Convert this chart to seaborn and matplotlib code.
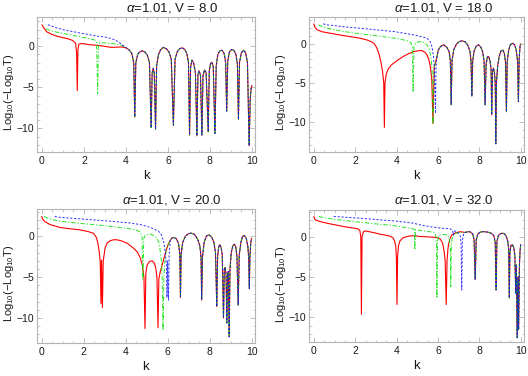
import matplotlib
matplotlib.use("Agg")
import matplotlib.pyplot as plt
import seaborn as sns
from matplotlib.ticker import MultipleLocator

ALPHA = 1.01
V_VALUES = [8.0, 18.0, 20.0, 32.0]

# (k, log10(-log10 T)) points.
# Each colour has its own start; after that all three follow the same tail.

# --- V = 8 ---
red_v8 = [(0.0, 2.6), (0.06, 2.3), (0.22, 1.75), (0.45, 1.45), (0.7, 1.22), (1.0, 1.03),
          (1.2, 0.92), (1.45, 0.7), (1.6, 0.35), (1.65, -0.8), (1.68, -5.4), (1.71, -0.5),
          (1.76, 0.25), (1.9, 0.32), (2.2, 0.2), (2.8, 0.05), (3.3, -0.15), (3.8, -0.1)]
green_v8 = [(0.18, 2.1), (0.4, 1.9), (0.7, 1.7), (1.0, 1.55), (1.4, 1.35), (1.8, 1.14),
            (2.2, 0.95), (2.5, 0.75), (2.6, 0.5), (2.65, -5.8), (2.69, 0.1), (2.76, 0.4),
            (3.0, 0.4), (3.4, 0.3), (3.8, 0.1)]
blue_v8 = [(0.28, 2.6), (0.6, 2.3), (1.0, 2.0), (1.4, 1.8), (1.8, 1.6), (2.2, 1.42),
           (2.6, 1.22), (3.0, 1.1), (3.3, 0.93), (3.5, 0.72), (3.65, 0.5), (3.8, 0.2)]
tail_v8 = [(4.0, -0.2), (4.15, -0.45), (4.28, -0.9), (4.37, -2.0), (4.42, -8.6), (4.47, -2.0),
           (4.56, -1.0), (4.66, -0.7), (4.78, -0.57), (4.9, -0.7), (5.02, -1.1), (5.12, -2.0),
           (5.2, -9.9), (5.25, -3.2), (5.3, -2.7), (5.35, -3.3), (5.41, -10.1), (5.46, -2.4),
           (5.55, -1.0), (5.65, -0.45), (5.78, -0.15), (5.92, -0.3), (6.05, -0.7), (6.16, -1.6),
           (6.26, -9.6), (6.34, -1.6), (6.44, -0.7), (6.56, -0.3), (6.68, -0.2), (6.8, -0.4),
           (6.9, -0.9), (6.98, -2.0), (7.03, -10.8), (7.08, -2.6), (7.14, -1.7), (7.22, -2.0),
           (7.31, -3.2), (7.38, -10.9), (7.43, -3.5), (7.48, -3.0), (7.55, -3.5), (7.62, -10.8),
           (7.67, -3.6), (7.74, -2.9), (7.82, -3.2), (7.92, -10.4), (7.97, -3.0), (8.03, -2.1),
           (8.09, -1.95), (8.16, -2.5), (8.24, -10.6), (8.3, -2.4), (8.38, -1.0), (8.48, -0.55),
           (8.58, -0.5), (8.68, -0.9), (8.75, -2.0), (8.8, -7.9), (8.85, -1.8), (8.93, -0.7),
           (9.03, -0.4), (9.14, -0.5), (9.24, -1.0), (9.31, -2.2), (9.36, -8.9), (9.41, -2.0),
           (9.5, -0.8), (9.6, -0.5), (9.7, -0.8), (9.79, -2.0), (9.87, -12.1), (9.92, -6.5),
           (9.96, -5.2), (10.0, -4.8)]

# --- V = 18 ---
red_v18 = [(0.0, 2.56), (0.06, 2.1), (0.16, 1.8), (0.4, 1.55), (0.96, 1.28), (1.45, 1.05),
           (1.93, 0.86), (2.3, 0.68), (2.57, 0.5), (2.75, 0.3), (2.9, 0.08), (3.03, -0.45),
           (3.14, -1.2), (3.24, -2.3), (3.32, -3.5), (3.38, -5.0), (3.41, -10.7), (3.44, -5.0),
           (3.5, -3.9), (3.6, -3.2), (3.75, -2.7), (3.9, -2.4), (4.1, -2.0), (4.34, -1.6),
           (4.55, -1.3), (4.82, -1.0), (5.05, -0.88), (5.22, -0.86), (5.38, -1.1), (5.47, -1.4),
           (5.56, -2.0), (5.63, -2.9), (5.7, -4.5), (5.76, -10.2), (5.82, -3.0)]
green_v18 = [(0.22, 2.44), (0.5, 2.1), (1.0, 1.8), (1.45, 1.58), (2.25, 1.28), (2.9, 1.07),
             (3.54, 0.86), (4.0, 0.68), (4.5, 0.42), (4.7, 0.15), (4.76, -0.5), (4.8, -6.2),
             (4.84, -0.3), (4.92, 0.08), (5.05, 0.25), (5.22, 0.3), (5.35, 0.15), (5.47, -0.13),
             (5.57, -0.6), (5.66, -1.6), (5.72, -3.5), (5.76, -10.3), (5.82, -3.0)]
blue_v18 = [(0.45, 2.56), (0.64, 2.44), (1.4, 2.2), (2.25, 2.0), (3.0, 1.8), (3.86, 1.58),
            (4.4, 1.35), (4.82, 1.15), (5.15, 0.95), (5.47, 0.73), (5.62, 0.3), (5.71, -0.34),
            (5.78, -1.5), (5.83, -3.3), (5.88, -8.9), (5.91, -3.0)]
tail_v18 = [(5.95, -1.7), (6.02, -0.8), (6.12, -0.35), (6.27, -0.13), (6.42, -0.4), (6.54, -1.0),
            (6.6, -2.2), (6.64, -7.8), (6.68, -2.2), (6.76, -0.8), (6.9, 0.0), (7.05, 0.32),
            (7.18, 0.38), (7.32, 0.25), (7.45, -0.2), (7.55, -1.0), (7.6, -2.2), (7.64, -6.7),
            (7.68, -2.2), (7.75, -0.9), (7.85, -0.3), (7.96, -0.13), (8.07, -0.4), (8.16, -1.0),
            (8.23, -2.2), (8.28, -7.8), (8.33, -2.6), (8.39, -1.7), (8.45, -1.6), (8.52, -2.2),
            (8.57, -3.3), (8.6, -9.1), (8.64, -3.6), (8.68, -3.1), (8.73, -3.6), (8.77, -5.0),
            (8.8, -12.8), (8.83, -5.0), (8.88, -3.0), (8.96, -1.6), (9.05, -0.9), (9.14, -0.8),
            (9.21, -1.2), (9.27, -2.4), (9.31, -8.7), (9.35, -2.3), (9.42, -0.8), (9.5, -0.1),
            (9.6, 0.08), (9.7, -0.1), (9.78, -0.7), (9.85, -2.2), (9.89, -7.4), (9.93, -1.8),
            (9.97, -0.3), (10.0, 0.0)]

# --- V = 20 ---
red_v20 = [(0.0, 2.45), (0.05, 2.1), (0.14, 1.83), (0.4, 1.45), (0.86, 1.1), (1.3, 0.95),
           (1.82, 0.81), (2.2, 0.6), (2.46, 0.4), (2.6, -0.1), (2.68, -0.9), (2.74, -1.9),
           (2.79, -3.2), (2.82, -8.2), (2.85, -2.9), (2.89, -8.7), (2.93, -3.0), (3.02, -1.4),
           (3.12, -0.8), (3.26, -0.53), (3.42, -0.41), (3.58, -0.41), (3.8, -0.55), (4.06, -0.82),
           (4.37, -1.43), (4.55, -1.9), (4.7, -2.65), (4.8, -3.6), (4.87, -5.0), (4.92, -11.3),
           (4.96, -4.5), (5.02, -3.5), (5.14, -3.05), (5.26, -3.0), (5.36, -3.25), (5.43, -3.8),
           (5.49, -5.1), (5.54, -11.2), (5.58, -5.2), (5.65, -4.3), (5.74, -3.5), (5.82, -2.7),
           (5.92, -1.8), (6.02, -1.0)]
green_v20 = [(0.12, 2.45), (0.3, 2.2), (0.6, 2.0), (1.0, 1.83), (1.8, 1.6), (2.6, 1.42),
             (3.4, 1.2), (4.2, 0.93), (4.5, 0.78), (4.7, 0.55), (4.78, 0.0), (4.82, -5.3),
             (4.86, -0.3), (4.92, 0.1), (5.05, 0.25), (5.2, 0.28), (5.35, 0.05), (5.49, -0.2),
             (5.57, -0.7), (5.63, -1.5), (5.7, -3.0), (5.74, -5.0), (5.78, -11.5), (5.82, -5.0),
             (5.88, -2.5), (5.96, -1.3), (6.05, -0.9)]
blue_v20 = [(0.62, 2.45), (0.8, 2.35), (1.3, 2.25), (1.82, 2.15), (2.6, 2.0), (3.42, 1.83),
            (4.2, 1.65), (4.7, 1.45), (5.0, 1.25), (5.17, 1.1), (5.4, 0.85), (5.57, 0.61),
            (5.7, 0.2), (5.81, -0.61), (5.88, -1.8), (5.94, -3.5), (5.97, -7.5), (6.0, -3.0),
            (6.04, -7.8), (6.07, -2.5), (6.09, -1.6)]
tail_v20 = [(6.12, -0.5), (6.2, -0.2), (6.3, -0.12), (6.42, -0.3), (6.52, -0.9), (6.58, -2.2),
            (6.61, -7.5), (6.64, -2.2), (6.72, -0.7), (6.85, 0.05), (7.0, 0.35), (7.12, 0.4),
            (7.28, 0.25), (7.42, -0.3), (7.53, -1.1), (7.59, -2.5), (7.62, -7.8), (7.66, -2.5),
            (7.74, -0.7), (7.85, 0.05), (7.97, 0.2), (8.1, -0.1), (8.2, -0.7), (8.28, -2.0),
            (8.34, -8.6), (8.38, -2.5), (8.43, -1.3), (8.48, -1.0), (8.54, -1.3), (8.6, -2.2),
            (8.66, -10.0), (8.7, -4.0), (8.74, -3.8), (8.78, -4.6), (8.82, -10.6), (8.86, -4.6),
            (8.89, -4.3), (8.93, -12.3), (8.97, -4.0), (9.03, -2.0), (9.1, -1.2), (9.17, -0.95),
            (9.24, -1.2), (9.3, -2.4), (9.36, -8.4), (9.41, -2.3), (9.49, -0.7), (9.57, 0.0),
            (9.65, 0.1), (9.74, -0.2), (9.82, -1.2), (9.86, -2.6), (9.89, -6.4), (9.92, -2.4),
            (9.96, -0.8), (10.0, -0.2)]

# --- V = 32 ---
red_v32 = [(0.0, 2.47), (0.04, 2.2), (0.08, 2.05), (0.3, 1.85), (0.64, 1.64), (1.05, 1.43),
           (1.45, 1.23), (1.85, 1.07), (2.1, 0.97), (2.22, 0.8), (2.27, 0.0), (2.3, -9.6),
           (2.33, 0.0), (2.4, 0.6), (2.49, 0.69), (2.9, 0.48), (3.22, 0.28), (3.5, 0.15),
           (3.7, 0.03), (3.82, -0.15), (3.9, -0.5), (3.96, -1.2), (3.99, -2.5), (4.02, -8.4),
           (4.05, -2.5), (4.09, -1.2), (4.15, -0.6), (4.25, -0.3), (4.34, -0.12), (4.6, 0.05),
           (4.82, 0.1), (5.15, 0.0), (5.55, -0.05), (5.95, -0.12), (6.1, -0.3), (6.19, -0.62),
           (6.25, -1.1), (6.3, -1.85), (6.35, -3.0), (6.4, -8.4), (6.44, -3.0), (6.48, -1.6),
           (6.51, -1.0), (6.58, -0.3), (6.67, 0.2), (6.85, 0.45), (7.08, 0.6)]
green_v32 = [(0.24, 2.47), (0.4, 2.38), (0.64, 2.26), (1.4, 2.0), (2.25, 1.77), (3.0, 1.56),
             (3.86, 1.36), (4.4, 1.12), (4.7, 1.0), (4.86, 0.9), (4.88, -1.65), (4.92, 0.85),
             (5.2, 0.72), (5.5, 0.62), (5.79, 0.53), (5.88, 0.3), (5.93, -1.0), (5.95, -7.6),
             (5.98, -0.6), (6.05, 0.1), (6.11, 0.2), (6.3, 0.25), (6.45, 0.2), (6.55, -0.2),
             (6.6, -1.5), (6.62, -6.2), (6.65, -1.0), (6.7, 0.0), (6.8, 0.35), (7.0, 0.5)]
blue_v32 = [(0.96, 2.47), (1.12, 2.45), (1.7, 2.35), (2.25, 2.26), (3.0, 2.1), (3.86, 1.93),
            (4.4, 1.78), (4.82, 1.64), (5.15, 1.43), (5.55, 1.25), (5.95, 1.1), (6.3, 1.0),
            (6.59, 0.94), (6.7, 0.8), (6.75, 0.2), (6.8, 0.7), (6.91, 0.6), (7.0, 0.4),
            (7.08, 0.1), (7.12, -1.0), (7.15, -6.6), (7.18, -0.5), (7.24, 0.3)]
tail_v32 = [(7.3, 0.5), (7.45, 0.6), (7.58, 0.55), (7.68, 0.3), (7.75, -0.4), (7.8, -5.3),
            (7.85, -0.4), (7.93, 0.3), (8.05, 0.55), (8.2, 0.6), (8.4, 0.55), (8.58, 0.4),
            (8.7, 0.1), (8.77, -0.7), (8.81, -6.6), (8.85, -0.6), (8.93, 0.15), (9.05, 0.38),
            (9.17, 0.4), (9.28, 0.15), (9.37, -0.5), (9.42, -1.5), (9.45, -7.6), (9.48, -2.0),
            (9.53, -1.1), (9.6, -1.0), (9.67, -1.4), (9.72, -2.4), (9.76, -7.0), (9.79, -3.5),
            (9.83, -12.5), (9.87, -5.0), (9.9, -11.5), (9.94, -3.5), (9.97, -1.8), (10.0, -1.0)]

CURVES = {
    8.0: (red_v8, green_v8, blue_v8, tail_v8),
    18.0: (red_v18, green_v18, blue_v18, tail_v18),
    20.0: (red_v20, green_v20, blue_v20, tail_v20),
    32.0: (red_v32, green_v32, blue_v32, tail_v32),
}

# layout (figure fractions) and y-range per panel
AX_RECTS = [(0.070, 0.596, 0.413, 0.359), (0.585, 0.597, 0.407, 0.359),
            (0.0695, 0.088, 0.413, 0.357), (0.585, 0.090, 0.407, 0.352)]
Y_RANGES = [(-12.85, 3.55), (-13.8, 3.5), (-13.05, 3.4), (-13.05, 3.3)]
TITLE_POS = [(0.326, 0.980), (0.841, 0.980), (0.326, 0.469), (0.841, 0.469)]

# colour, dash pattern (points), line width, alpha
STYLES = [("#ff0000", None, 0.8, 1.0),
          ("#00e000", (3.2, 1.3, 0.9, 1.3), 0.7, 0.85),
          ("#0000ff", (1.6, 1.2), 0.7, 0.8)]
FRAME = "#b4b4b4"

sns.set_theme(style="white")
plt.rcParams["font.family"] = ["Liberation Sans", "DejaVu Sans"]
plt.rcParams["mathtext.fontset"] = "custom"
plt.rcParams["mathtext.rm"] = "Liberation Sans"
plt.rcParams["mathtext.it"] = "Liberation Sans:italic"
plt.rcParams["lines.scale_dashes"] = False

fig = plt.figure(figsize=(5.28, 3.76), dpi=100)

for i, v in enumerate(V_VALUES):
    ax = fig.add_axes(AX_RECTS[i])
    red, green, blue, tail = CURVES[v]
    for head, (color, dashes, lw, alpha) in zip((red, green, blue), STYLES):
        pts = head + tail
        ks = [p[0] for p in pts]
        ys = [p[1] for p in pts]
        sns.lineplot(x=ks, y=ys, ax=ax, color=color, linewidth=lw, alpha=alpha,
                     sort=False, estimator=None)
        if dashes is not None:
            ax.lines[-1].set_dashes(dashes)

    ax.set_xlim(-0.24, 10.15)
    ax.set_ylim(*Y_RANGES[i])
    ax.xaxis.set_major_locator(MultipleLocator(2))
    ax.xaxis.set_minor_locator(MultipleLocator(0.5))
    ax.yaxis.set_major_locator(MultipleLocator(5))
    ax.yaxis.set_minor_locator(MultipleLocator(1))
    ax.tick_params(which="major", direction="in", length=3.5, width=0.6, color=FRAME,
                   labelsize=7.5, labelcolor="#1a1a1a", pad=3,
                   top=True, right=True, bottom=True, left=True)
    ax.tick_params(axis="y", which="major", pad=2)
    ax.tick_params(which="minor", direction="in", length=1.8, width=0.5, color=FRAME,
                   top=True, right=True, bottom=True, left=True)
    for sp in ax.spines.values():
        sp.set_color(FRAME)
        sp.set_linewidth(0.8)
    ax.set_xlabel("k", fontsize=9.5, color="#1a1a1a", labelpad=3)
    ax.set_ylabel(r"Log$_{10}$($-$Log$_{10}$T)", fontsize=8.0, color="#1a1a1a")
    ax.yaxis.set_label_coords(-0.095, 0.44)
    ax.grid(False)

    fig.text(TITLE_POS[i][0], TITLE_POS[i][1], rf"$\alpha$=1.01, V = {v:.1f}",
             ha="center", va="center", fontsize=9.5, color="#1a1a1a")

fig.savefig("out.png", dpi=100)
